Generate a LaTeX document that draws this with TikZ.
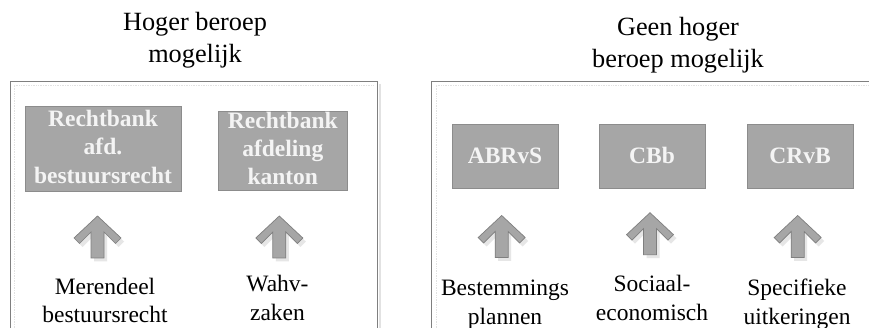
\documentclass[tikz,border=0pt]{standalone}
\usepackage{fontspec}
\setmainfont{Liberation Serif}
\definecolor{boxgray}{HTML}{A6A6A6}
\definecolor{boxline}{HTML}{8C8C8C}
\definecolor{boxtext}{HTML}{F4F4F4}
\definecolor{frameline}{HTML}{7F7F7F}
\definecolor{framein}{HTML}{E2E2E2}
\definecolor{shadowgray}{HTML}{E6E6E6}
\tikzset{
  titletext/.style={font=\fontsize{26.3}{32}\selectfont, align=center, inner sep=0pt, anchor=base},
  labeltext/.style={font=\fontsize{23.5}{28.5}\selectfont, align=center, inner sep=0pt, anchor=base},
  boxtxt/.style={font=\bfseries\fontsize{23.5}{28.3}\selectfont, text=boxtext, align=center, inner sep=0pt, anchor=base},
  courtbox/.style={draw=boxline, line width=0.8pt, fill=boxgray},
  frame/.style={draw=frameline, line width=0.9pt},
  frameinner/.style={draw=framein, line width=0.7pt, densely dotted},
  uparr/.pic={
    \fill[shadowgray] (3,3.5) -- (-20.5,25.5) -- (-15,31) -- (-3.5,19.5) -- (-3.5,45.5) -- (9.5,45.5) -- (9.5,19.5) -- (21,31) -- (26.5,25.5) -- cycle;
    \draw[frameline, line width=0.7pt, fill=boxgray, line join=miter] (0,0) -- (-23.5,22) -- (-18,27.5) -- (-6.5,16) -- (-6.5,42) -- (6.5,42) -- (6.5,16) -- (18,27.5) -- (23.5,22) -- cycle;
  }
}
\begin{document}
\begin{tikzpicture}[x=1pt, y=-1pt]
\useasboundingbox (0,0) rectangle (869,328);
\fill[white] (0,0) rectangle (869,328);

% frames
\coordinate (lfTL) at (10,81);
\coordinate (lfBR) at (377,340);
\draw[framein, line width=1.2pt] (380,84) -- (380,340);
\draw[frameinner] (14,340) -- (14,85) -- (373,85);
\draw[frame] (10,340) -- (lfTL) -- (377,81) -- (377,340);
\draw[frameinner] (436,340) -- (436,85) -- (875,85);
\draw[frame] (431.5,340) -- (431.5,81) -- (875,81);

% titles (anchor = baseline of last line)
\node[titletext] (t1) at (195,63) {Hoger beroep\\mogelijk};
\node[titletext] (t2) at (678,68) {Geen hoger\\beroep mogelijk};

% courts
\path[courtbox] (25,106) rectangle (181,191);
\node[boxtxt] (b1) at (103,183.3) {Rechtbank\\afd.\\bestuursrecht};
\path[courtbox] (218.3,111) rectangle (347.3,190.7);
\node[boxtxt] (b2) at (282.8,185) {Rechtbank\\afdeling\\kanton};
\path[courtbox] (452,124) rectangle (558,188);
\node[boxtxt] (b3) at (505,163.3) {ABRvS};
\path[courtbox] (599,124) rectangle (705,188);
\node[boxtxt] (b4) at (652,163.3) {CBb};
\path[courtbox] (747,124) rectangle (853,188);
\node[boxtxt] (b5) at (800,163.3) {CRvB};

% arrows
\pic (a1) at (97.5,216) {uparr};
\pic (a2) at (279.3,216) {uparr};
\pic (a3) at (501.7,215.5) {uparr};
\pic (a4) at (650,212.7) {uparr};
\pic (a5) at (797.7,215.5) {uparr};

% labels
\node[labeltext] (l1) at (105,323) {Merendeel\\bestuursrecht};
\node[labeltext] (l2) at (277.5,320) {Wahv-\\zaken};
\node[labeltext] (l3) at (505,324) {Bestemmings\\plannen};
\node[labeltext] (l4) at (652,320) {Sociaal-\\economisch};
\node[labeltext] (l5) at (797,324) {Specifieke\\uitkeringen};
\end{tikzpicture}
\end{document}
